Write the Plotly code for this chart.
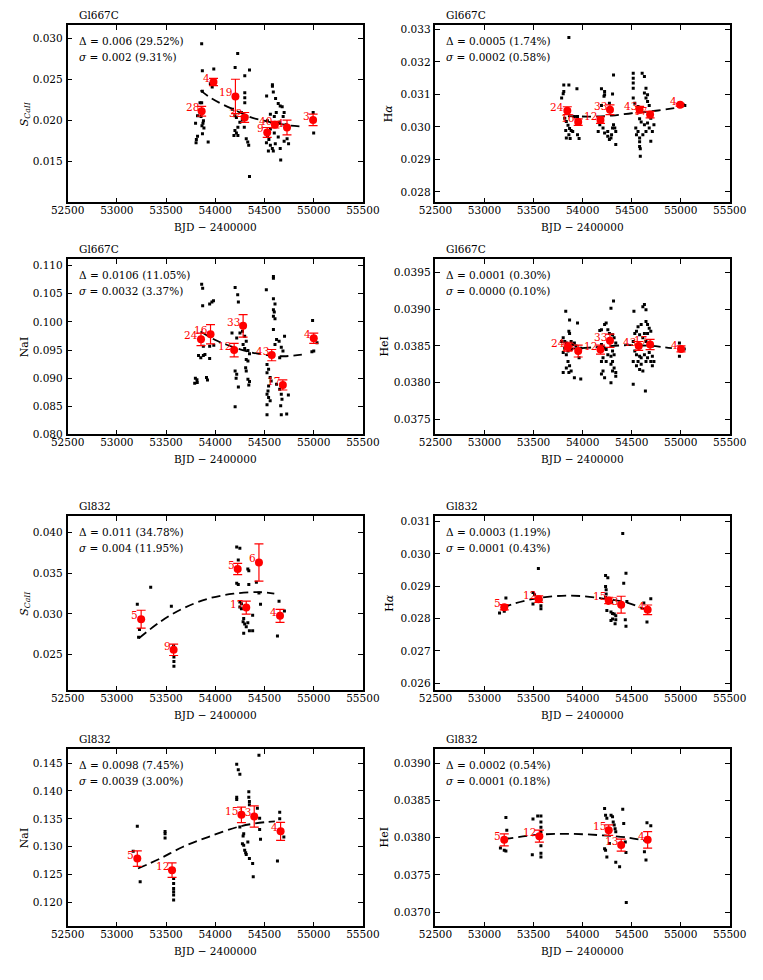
import plotly.graph_objects as go

# ------------------------------------------------------------------ data
# Panel 1: Gl667C, S_CaII
P1_DOT_T = [53862, 53869, 53985, 53969, 53869, 53845, 53862, 53820, 53855, 53880,
            53875, 53800, 53865, 53885, 53870, 53820, 53808, 53805, 53928, 53950,
            54228, 54202, 54348, 54300, 54300, 54300, 54300, 54175, 54200, 54215,
            54250, 54230, 54200, 54215, 54190, 54230, 54275, 54295, 54315, 54330,
            54340, 54348, 54265, 54320,
            54581, 54581, 54590, 54522, 54613, 54640, 54660, 54680, 54700, 54560,
            54600, 54530, 54620, 54690, 54720, 54650, 54560, 54600, 54640, 54530,
            54545, 54560, 54580, 54590, 54610, 54660, 54665, 54700, 54730, 54745,
            54520, 54540,
            54995, 55000]
P1_DOT_V = [0.0294, 0.0261, 0.0263, 0.0241, 0.0236, 0.0222, 0.0222, 0.0206, 0.0205, 0.0200,
            0.0197, 0.0197, 0.0194, 0.0191, 0.0184, 0.0181, 0.0177, 0.0173, 0.0174, 0.0245,
            0.0282, 0.0265, 0.0262, 0.0255, 0.0234, 0.0228, 0.0222, 0.0214, 0.0206, 0.0204,
            0.0198, 0.0192, 0.0188, 0.0185, 0.0182, 0.0182, 0.0201, 0.0192, 0.0178, 0.0174,
            0.0170, 0.0132, 0.0210, 0.0205,
            0.0244, 0.0242, 0.0235, 0.0230, 0.0227, 0.0221, 0.0218, 0.0217, 0.0210, 0.0208,
            0.0205, 0.0200, 0.0210, 0.0205, 0.0195, 0.0198, 0.0190, 0.0185, 0.0180, 0.0182,
            0.0177, 0.0170, 0.0166, 0.0163, 0.0172, 0.0166, 0.0152, 0.0175, 0.0178, 0.0172,
            0.0173, 0.0163,
            0.0210, 0.0185]
P1_BIN_T = [53862, 53982, 54205, 54299, 54528, 54606, 54729, 54994]
P1_BIN_V = [0.02115, 0.02472, 0.02296, 0.0204, 0.01857, 0.01951, 0.01918, 0.0201]
P1_BIN_E = [0.0006, 0.00045, 0.0021, 0.0006, 0.0006, 0.0004, 0.0009, 0.0007]
P1_BIN_N = ["28", "4", "19", "32", "9", "40", "4", "3"]
P1_FIT_T = [53850, 53943, 54056, 54218, 54364, 54493, 54606, 54768, 54880]
P1_FIT_V = [0.0237, 0.02287, 0.0221, 0.0212, 0.0204, 0.0200, 0.0197, 0.0194, 0.0193]

# Panel 2: Gl667C, H-alpha
P2_DOT_T = [53860, 53808, 53860, 53808, 53802, 53942, 53786, 53818, 53834, 53851,
            53867, 53828, 53883, 53860, 53834, 53899, 53948, 53964, 53873, 53916, 53948,
            54315, 54192, 54224, 54224, 54218, 54305, 54273, 54192, 54315, 54159,
            54208, 54224, 54256, 54273, 54295, 54305, 54328, 54338, 54338, 54256,
            54289, 54175,
            54516, 54516, 54516, 54516, 54607, 54630, 54646, 54630, 54662, 54646,
            54662, 54679, 54516, 54532, 54565, 54581, 54597, 54630, 54662, 54679,
            54711, 54727, 54695, 54542, 54565, 54549, 54581, 54614, 54646, 54581,
            54581, 54588, 54588, 54695,
            54987, 55020, 55042]
P2_DOT_V = [0.03275, 0.03129, 0.03129, 0.03109, 0.03102, 0.03117, 0.03089, 0.03027, 0.03017, 0.03005,
            0.02995, 0.02989, 0.02989, 0.02976, 0.02966, 0.02986, 0.02976, 0.02964, 0.02964, 0.03032, 0.03032,
            0.03160, 0.03117, 0.03109, 0.03099, 0.03094, 0.03101, 0.03073, 0.03066, 0.03007, 0.02986,
            0.02997, 0.02981, 0.02971, 0.02961, 0.02976, 0.02997, 0.02997, 0.02986, 0.02946, 0.02986,
            0.02966, 0.03007,
            0.03165, 0.03150, 0.03135, 0.03119, 0.03165, 0.03155, 0.03119, 0.03104, 0.03099, 0.03089,
            0.03078, 0.03066, 0.03089, 0.03073, 0.03063, 0.03025, 0.03015, 0.03007, 0.03012, 0.02997,
            0.02986, 0.03007, 0.03027, 0.02997, 0.02986, 0.02976, 0.02966, 0.02976, 0.02986, 0.02954,
            0.02940, 0.02933, 0.02910, 0.02956,
            0.03073, 0.03070, 0.03066]
P2_BIN_T = [53844, 53955, 54182, 54279, 54581, 54688, 54994]
P2_BIN_V = [0.03050, 0.03015, 0.03021, 0.03053, 0.03053, 0.03038, 0.03068]
P2_BIN_E = [0.00012, 0.0001, 0.0001, 0.00015, 0.0001, 0.0001, 0.00004]
P2_BIN_N = ["24", "16", "12", "33", "43", "17", "4"]
P2_FIT_T = [53850, 54100, 54300, 54500, 54700, 54900, 55030]
P2_FIT_V = [0.03033, 0.03032, 0.03035, 0.03042, 0.03048, 0.03056, 0.03063]

# Panel 3: Gl667C, NaI
P3_DOT_T = [53862, 53872, 53872, 53943, 53966, 53982, 53830, 53853, 53879, 53895,
            53943, 53943, 53985, 53879, 53798, 53814, 53791, 53817, 53911, 53921,
            54202, 54228, 54235, 54170, 54277, 54218, 54251, 54299, 54315, 54283,
            54299, 54332, 54348, 54315, 54332, 54309, 54315, 54202, 54218, 54212,
            54235, 54332, 54348, 54341, 54202,
            54591, 54591, 54519, 54591, 54607, 54591, 54600, 54591, 54607, 54591,
            54623, 54649, 54607, 54671, 54704, 54688, 54655, 54526, 54542, 54526,
            54558, 54568, 54542, 54536, 54526, 54542, 54558, 54526, 54526, 54671,
            54678, 54665, 54671, 54726, 54743, 54655, 54623,
            54989, 55001, 54982, 55034]
P3_DOT_V = [0.10670, 0.10600, 0.10288, 0.10317, 0.10352, 0.10376, 0.09404, 0.09363, 0.09404, 0.09422,
            0.09351, 0.09569, 0.09587, 0.09569, 0.08998, 0.08974, 0.08909, 0.08921, 0.09010, 0.08968,
            0.10612, 0.10482, 0.10352, 0.09805, 0.09834, 0.09716, 0.09805, 0.09746, 0.09657, 0.09598,
            0.09528, 0.09493, 0.09434, 0.09333, 0.09304, 0.09186, 0.09127, 0.09127, 0.09068, 0.08998,
            0.08845, 0.08980, 0.08939, 0.08880, 0.08491,
            0.10806, 0.10777, 0.10570, 0.10411, 0.10317, 0.10217, 0.10176, 0.10099, 0.10058, 0.09864,
            0.09687, 0.09657, 0.09598, 0.09551, 0.09746, 0.09481, 0.09363, 0.09245, 0.09157, 0.09098,
            0.09010, 0.08951, 0.08862, 0.08774, 0.08715, 0.08656, 0.08597, 0.08527, 0.08350, 0.08715,
            0.08627, 0.08509, 0.08350, 0.08362, 0.08703, 0.08803, 0.08892,
            0.10023, 0.09481, 0.09469, 0.09628]
P3_BIN_T = [53855, 53952, 54192, 54283, 54574, 54687, 55001]
P3_BIN_V = [0.0969, 0.0978, 0.0950, 0.0993, 0.0941, 0.0888, 0.0971]
P3_BIN_E = [0.0011, 0.0017, 0.0012, 0.0020, 0.0010, 0.0009, 0.0009]
P3_BIN_N = ["24", "16", "12", "33", "43", "17", "4"]
P3_FIT_T = [53850, 54024, 54315, 54574, 54700, 54880]
P3_FIT_V = [0.0983, 0.0966, 0.0948, 0.0940, 0.0939, 0.0942]

# Panel 4: Gl667C, HeI
P4_DOT_T = [53828, 53867, 53948, 53860, 53867, 53802, 53818, 53834, 53883, 53899,
            53916, 53932, 53818, 53851, 53802, 53834, 53883, 53948, 53981, 53964,
            53851, 53867, 53834, 53883, 53802, 53860, 53916, 53981, 53786,
            54315, 54289, 54240, 54224, 54192, 54175, 54257, 54273, 54305, 54321,
            54338, 54192, 54224, 54240, 54305, 54321, 54289, 54257, 54208, 54192,
            54240, 54305, 54289, 54321, 54305, 54208, 54192, 54224, 54338, 54338, 54289,
            54523, 54614, 54630, 54646, 54565, 54597, 54646, 54662, 54679, 54532,
            54549, 54581, 54630, 54662, 54695, 54516, 54614, 54646, 54679, 54711,
            54532, 54549, 54581, 54597, 54630, 54662, 54679, 54711, 54516, 54565,
            54597, 54646, 54695, 54711, 54549, 54581, 54614, 54516, 54727, 54640,
            54987, 54987, 55036]
P4_DOT_V = [0.03897, 0.03885, 0.03881, 0.03870, 0.03867, 0.03861, 0.03856, 0.03854, 0.03856, 0.03852,
            0.03854, 0.03850, 0.03847, 0.03843, 0.03841, 0.03838, 0.03845, 0.03845, 0.03847, 0.03834,
            0.03829, 0.03823, 0.03820, 0.03816, 0.03814, 0.03814, 0.03807, 0.03805, 0.03856,
            0.03911, 0.03901, 0.03881, 0.03879, 0.03872, 0.03871, 0.03872, 0.03867, 0.03865, 0.03861,
            0.03854, 0.03852, 0.03847, 0.03845, 0.03843, 0.03838, 0.03836, 0.03838, 0.03834, 0.03829,
            0.03829, 0.03829, 0.03825, 0.03820, 0.03816, 0.03816, 0.03812, 0.03807, 0.03809, 0.03814, 0.03800,
            0.03897, 0.03903, 0.03906, 0.03899, 0.03876, 0.03879, 0.03883, 0.03879, 0.03874, 0.03867,
            0.03870, 0.03865, 0.03867, 0.03867, 0.03870, 0.03856, 0.03861, 0.03856, 0.03854, 0.03850,
            0.03843, 0.03838, 0.03836, 0.03834, 0.03838, 0.03834, 0.03841, 0.03836, 0.03829, 0.03829,
            0.03825, 0.03829, 0.03829, 0.03823, 0.03823, 0.03818, 0.03816, 0.03798, 0.03829, 0.03789,
            0.03854, 0.03836, 0.03846]
P4_BIN_T = [53851, 53955, 54182, 54279, 54572, 54688, 55003]
P4_BIN_V = [0.03849, 0.03843, 0.03845, 0.03857, 0.03850, 0.03852, 0.03846]
P4_BIN_E = [0.00006, 0.00008, 0.00006, 0.00009, 0.00006, 0.00007, 0.00004]
P4_BIN_N = ["24", "16", "12", "33", "43", "17", "4"]
P4_FIT_T = [53850, 54100, 54450, 54700, 54910]
P4_FIT_V = [0.03846, 0.03848, 0.03851, 0.03850, 0.03847]

# Panel 5: Gl832, S_CaII
P5_DOT_T = [53208, 53344, 53554, 53221, 53230, 53577, 53577, 53580, 53580, 53580,
            54218, 54250, 54234, 54218, 54234, 54250, 54266, 54250, 54266, 54331,
            54341, 54341, 54289, 54283, 54299, 54315, 54331, 54347, 54380, 54289,
            54444, 54460, 54418, 54380, 54648, 54703, 54632]
P5_DOT_V = [0.03117, 0.03329, 0.03093, 0.02710, 0.02808, 0.02605, 0.02535, 0.02466, 0.02413, 0.02352,
            0.03826, 0.03809, 0.03663, 0.03378, 0.03362, 0.03146, 0.03125, 0.03085, 0.03064, 0.03553,
            0.03532, 0.03362, 0.02942, 0.02902, 0.02873, 0.02841, 0.02889, 0.02792, 0.02792, 0.02759,
            0.03256, 0.03117, 0.03390, 0.02983, 0.03154, 0.03036, 0.02727]
P5_BIN_T = [53247, 53577, 54228, 54315, 54444, 54658]
P5_BIN_V = [0.02934, 0.02556, 0.03553, 0.03077, 0.03634, 0.02975]
P5_BIN_E = [0.0011, 0.0007, 0.0007, 0.0008, 0.0023, 0.0008]
P5_BIN_N = ["5", "9", "5", "17", "6", "4"]
P5_FIT_T = [53224, 53441, 53668, 53927, 54186, 54444, 54600]
P5_FIT_V = [0.02698, 0.02902, 0.03064, 0.03187, 0.03248, 0.03268, 0.03248]

# Panel 6: Gl832, H-alpha
P6_DOT_T = [53153, 53218, 53201, 53549, 53494, 53510, 53494, 53575, 53575, 53575,
            54234, 54257, 54234, 54240, 54240, 54234, 54247, 54296, 54289, 54305,
            54322, 54338, 54305, 54338, 54331, 54289, 54409, 54419, 54442, 54435,
            54442, 54451, 54624, 54656, 54695]
P6_DOT_V = [0.02817, 0.02864, 0.02823, 0.02955, 0.02881, 0.02874, 0.02845, 0.02858, 0.02840, 0.02830,
            0.02933, 0.02926, 0.02899, 0.02889, 0.02876, 0.02865, 0.02825, 0.02853, 0.02820, 0.02816,
            0.02814, 0.02809, 0.02799, 0.02796, 0.02784, 0.02794, 0.03063, 0.02909, 0.02940, 0.02796,
            0.02776, 0.02853, 0.02848, 0.02789, 0.02861]
P6_BIN_T = [53201, 53552, 54266, 54393, 54663]
P6_BIN_V = [0.02835, 0.02860, 0.02856, 0.02843, 0.02827]
P6_BIN_E = [0.00008, 0.0001, 0.0001, 0.00026, 0.00015]
P6_BIN_N = ["5", "12", "15", "13", "4"]
P6_FIT_T = [53185, 53299, 53559, 53883, 54208, 54468, 54598, 54646]
P6_FIT_V = [0.02833, 0.02846, 0.02864, 0.02871, 0.02862, 0.02848, 0.02833, 0.02828]

# Panel 7: Gl832, NaI
P7_DOT_T = [53208, 53237, 53166, 53490, 53490, 53490, 53577, 53577, 53577, 53577,
            53577, 53577, 54218, 54234, 54250, 54218, 54218, 54250, 54289, 54283,
            54276, 54289, 54299, 54309, 54315, 54341, 54341, 54347, 54347, 54331,
            54347, 54380, 54386, 54444, 54428, 54451, 54451, 54460, 54632, 54655,
            54655, 54697]
P7_DOT_V = [0.13370, 0.12372, 0.12920, 0.13275, 0.13234, 0.13157, 0.12432, 0.12343, 0.12254, 0.12194,
            0.12135, 0.12046, 0.14481, 0.14380, 0.14302, 0.13887, 0.13846, 0.13353, 0.13234, 0.13192,
            0.13056, 0.13026, 0.12937, 0.12895, 0.12860, 0.13988, 0.13887, 0.13810, 0.13751, 0.13085,
            0.12789, 0.12700, 0.12462, 0.14642, 0.13691, 0.13513, 0.13311, 0.13133, 0.12747, 0.13620,
            0.13501, 0.13174]
P7_BIN_T = [53208, 53561, 54266, 54396, 54664]
P7_BIN_V = [0.12788, 0.12581, 0.13572, 0.13543, 0.13276]
P7_BIN_E = [0.0014, 0.0013, 0.0014, 0.0019, 0.0016]
P7_BIN_N = ["5", "12", "15", "13", "4"]
P7_FIT_T = [53215, 53441, 53668, 53927, 54250, 54509, 54606]
P7_FIT_V = [0.12610, 0.12790, 0.12996, 0.13174, 0.13365, 0.13442, 0.13454]

# Panel 8: Gl832, HeI
P8_DOT_T = [53218, 53227, 53162, 53201, 53218, 53494, 53487, 53542, 53575, 53575,
            53575, 53575, 53575, 53575, 53575, 54224, 54234, 54247, 54224, 54234,
            54247, 54290, 54305, 54312, 54322, 54331, 54338, 54273, 54338, 54377,
            54409, 54419, 54435, 54442, 54445, 54656, 54695, 54630, 54646]
P8_DOT_V = [0.03827, 0.03810, 0.03786, 0.03783, 0.03782, 0.03825, 0.03777, 0.03829, 0.03829, 0.03821,
            0.03814, 0.03808, 0.03789, 0.03779, 0.03774, 0.03839, 0.03830, 0.03826, 0.03785, 0.03783,
            0.03774, 0.03830, 0.03828, 0.03821, 0.03817, 0.03812, 0.03808, 0.03792, 0.03767, 0.03761,
            0.03838, 0.03819, 0.03794, 0.03780, 0.03713, 0.03820, 0.03816, 0.03781, 0.03770]
P8_BIN_T = [53201, 53559, 54266, 54393, 54663]
P8_BIN_V = [0.03797, 0.03802, 0.03810, 0.03790, 0.03797]
P8_BIN_E = [0.00008, 0.00008, 0.00007, 0.00008, 0.00011]
P8_BIN_N = ["5", "12", "15", "13", "4"]
P8_FIT_T = [53201, 53559, 53883, 54208, 54468, 54663]
P8_FIT_V = [0.03798, 0.03804, 0.03805, 0.03803, 0.03800, 0.03795]

STARS = ["Gl667C", "Gl667C", "Gl667C", "Gl667C", "Gl832", "Gl832", "Gl832", "Gl832"]
YTITLES = ["<i>S</i><sub><i>CaII</i></sub>", "H<i>α</i>", "NaI", "HeI",
           "<i>S</i><sub><i>CaII</i></sub>", "H<i>α</i>", "NaI", "HeI"]
DELTA_TXT = ["0.006 (29.52%)", "0.0005 (1.74%)", "0.0106 (11.05%)", "0.0001 (0.30%)",
             "0.011 (34.78%)", "0.0003 (1.19%)", "0.0098 (7.45%)", "0.0002 (0.54%)"]
SIGMA_TXT = ["0.002 (9.31%)", "0.0002 (0.58%)", "0.0032 (3.37%)", "0.0000 (0.10%)",
             "0.004 (11.95%)", "0.0001 (0.43%)", "0.0039 (3.00%)", "0.0001 (0.18%)"]
XTITLE = "BJD − 2400000"

DOTS_T = [P1_DOT_T, P2_DOT_T, P3_DOT_T, P4_DOT_T, P5_DOT_T, P6_DOT_T, P7_DOT_T, P8_DOT_T]
DOTS_V = [P1_DOT_V, P2_DOT_V, P3_DOT_V, P4_DOT_V, P5_DOT_V, P6_DOT_V, P7_DOT_V, P8_DOT_V]
BINS_T = [P1_BIN_T, P2_BIN_T, P3_BIN_T, P4_BIN_T, P5_BIN_T, P6_BIN_T, P7_BIN_T, P8_BIN_T]
BINS_V = [P1_BIN_V, P2_BIN_V, P3_BIN_V, P4_BIN_V, P5_BIN_V, P6_BIN_V, P7_BIN_V, P8_BIN_V]
BINS_E = [P1_BIN_E, P2_BIN_E, P3_BIN_E, P4_BIN_E, P5_BIN_E, P6_BIN_E, P7_BIN_E, P8_BIN_E]
BINS_N = [P1_BIN_N, P2_BIN_N, P3_BIN_N, P4_BIN_N, P5_BIN_N, P6_BIN_N, P7_BIN_N, P8_BIN_N]
FITS_T = [P1_FIT_T, P2_FIT_T, P3_FIT_T, P4_FIT_T, P5_FIT_T, P6_FIT_T, P7_FIT_T, P8_FIT_T]
FITS_V = [P1_FIT_V, P2_FIT_V, P3_FIT_V, P4_FIT_V, P5_FIT_V, P6_FIT_V, P7_FIT_V, P8_FIT_V]

# ------------------------------------------------------------------ layout config
W, H = 763, 980
FONT = "DejaVu Serif"
FS = 10.5
COLS = [(53, 362), (438, 746)]
ROWS = [(23, 202), (259, 436), (518, 694), (753, 932)]
YRANGES = [(0.01004, 0.0317), (0.02768, 0.03314), (0.0800, 0.1112), (0.0373, 0.03968),
           (0.02056, 0.0421), (0.02578, 0.03118), (0.11573, 0.14755), (0.03681, 0.03919)]
YDTICK = [0.005, 0.001, 0.005, 0.0005, 0.005, 0.001, 0.005, 0.0005]
YFMT = [".3f", ".3f", ".3f", ".4f", ".3f", ".3f", ".3f", ".4f"]
YTITLE_X = [8, 389, 8, 385, 8, 389, 8, 385]

fig = go.Figure()
annotations = []
layout = dict(
    width=W, height=H, margin=dict(l=0, r=0, t=0, b=0),
    paper_bgcolor="white", plot_bgcolor="white", showlegend=False,
    font=dict(family=FONT, size=FS, color="black"),
)

for i in range(8):
    n = i + 1
    row, col = i // 2, i % 2
    xa = "x" if n == 1 else f"x{n}"
    ya = "y" if n == 1 else f"y{n}"
    x0, x1 = COLS[col]
    ytop, ybot = ROWS[row]
    xd = [x0 / W, x1 / W]
    yd = [1 - ybot / H, 1 - ytop / H]

    fig.add_trace(go.Scatter(x=DOTS_T[i], y=DOTS_V[i], mode="markers", xaxis=xa, yaxis=ya,
                             marker=dict(symbol="square", size=3, color="black", line=dict(width=0))))
    fig.add_trace(go.Scatter(x=FITS_T[i], y=FITS_V[i], mode="lines", xaxis=xa, yaxis=ya,
                             line=dict(color="black", width=1.8, dash="9px,5px", shape="spline")))
    fig.add_trace(go.Scatter(x=BINS_T[i], y=BINS_V[i], mode="markers", xaxis=xa, yaxis=ya,
                             marker=dict(symbol="circle", size=8, color="#ff0000"),
                             error_y=dict(type="data", array=BINS_E[i], visible=True,
                                          color="#ff0000", thickness=1.2, width=4.5)))

    common = dict(showline=True, linecolor="black", linewidth=1.6, mirror="ticks",
                  ticks="inside", ticklen=5, tickwidth=1, tickcolor="black",
                  showgrid=False, zeroline=False,
                  tickfont=dict(family=FONT, size=FS, color="black"))
    layout["xaxis" if n == 1 else f"xaxis{n}"] = dict(
        domain=xd, anchor=ya, range=[52500, 55500], tick0=52500, dtick=500,
        tickformat="d", ticklabelstandoff=-3, **common)
    layout["yaxis" if n == 1 else f"yaxis{n}"] = dict(
        domain=yd, anchor=xa, range=list(YRANGES[i]), dtick=YDTICK[i], tick0=0,
        tickformat=YFMT[i], ticklabelstandoff=1, **common)

    # star name above frame
    annotations.append(dict(xref="paper", yref="paper", x=xd[0], y=yd[1], xanchor="left",
                            yanchor="middle", xshift=9, yshift=10, showarrow=False,
                            text=STARS[i], font=dict(family=FONT, size=FS, color="black")))
    # stats
    annotations.append(dict(xref="paper", yref="paper", x=xd[0], y=yd[1], xanchor="left",
                            yanchor="middle", xshift=9, yshift=-16, showarrow=False,
                            text="Δ = " + DELTA_TXT[i], font=dict(family=FONT, size=FS, color="black")))
    annotations.append(dict(xref="paper", yref="paper", x=xd[0], y=yd[1], xanchor="left",
                            yanchor="middle", xshift=9, yshift=-32, showarrow=False,
                            text="<i>σ</i> = " + SIGMA_TXT[i], font=dict(family=FONT, size=FS, color="black")))
    # axis titles
    annotations.append(dict(xref="paper", yref="paper", x=(xd[0] + xd[1]) / 2, y=yd[0],
                            xanchor="center", yanchor="middle", yshift=-25, showarrow=False,
                            text=XTITLE, font=dict(family=FONT, size=FS, color="black")))
    annotations.append(dict(xref="paper", yref="paper", x=YTITLE_X[i] / W, y=(yd[0] + yd[1]) / 2,
                            xanchor="center", yanchor="middle", textangle=-90, showarrow=False,
                            text=YTITLES[i], font=dict(family=FONT, size=FS + 0.5, color="black")))
    # bin counts
    for t, v, lab in zip(BINS_T[i], BINS_V[i], BINS_N[i]):
        annotations.append(dict(xref=xa, yref=ya, x=t, y=v, xanchor="right", yanchor="middle",
                                xshift=-1, yshift=4, showarrow=False, text=lab,
                                font=dict(family=FONT, size=FS, color="#ff0000")))

layout["annotations"] = annotations
fig.update_layout(**layout)
fig.write_html("out.html")
